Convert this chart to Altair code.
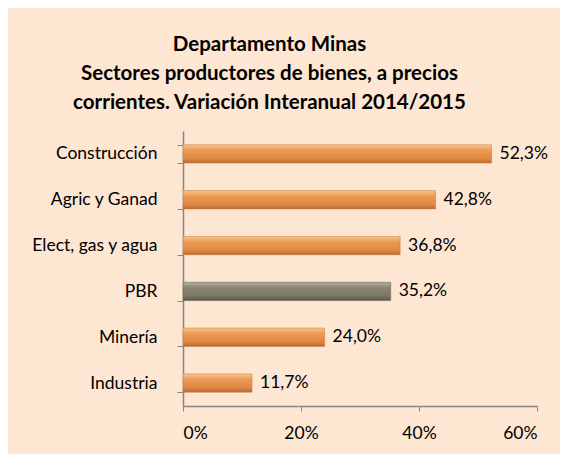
import altair as alt
import pandas as pd

categories = ["Construcción", "Agric y Ganad", "Elect, gas y agua", "PBR", "Minería", "Industria"]
values = [52.3, 42.8, 36.8, 35.2, 24.0, 11.7]
x_ticks = [0, 20, 40, 60]

df = pd.DataFrame({"cat": categories, "v": values})

FONT = "Lato"
LFS = 17.5
orange = alt.Gradient(
    gradient="linear", x1=0, y1=0, x2=0, y2=1,
    stops=[
        alt.GradientStop(offset=0, color="#FAC58E"),
        alt.GradientStop(offset=0.3, color="#EC9A55"),
        alt.GradientStop(offset=0.75, color="#E08744"),
        alt.GradientStop(offset=1, color="#B86A33"),
    ],
)
gray = alt.Gradient(
    gradient="linear", x1=0, y1=0, x2=0, y2=1,
    stops=[
        alt.GradientStop(offset=0, color="#B3B09E"),
        alt.GradientStop(offset=0.3, color="#8A8672"),
        alt.GradientStop(offset=0.75, color="#7B7764"),
        alt.GradientStop(offset=1, color="#59564A"),
    ],
)

y_enc = alt.Y(
    "cat:N", sort=categories, title=None,
    scale=alt.Scale(paddingInner=0.6, paddingOuter=0.3),
    axis=alt.Axis(
        tickBand="extent", domainColor="#868686", tickColor="#868686",
        tickSize=6, labelPadding=20, labelFontSize=LFS, labelFont=FONT,
        labelColor="#000000", domainWidth=1.5,
    ),
)
x_enc = alt.X(
    "v:Q", title=None,
    scale=alt.Scale(domain=[0, 60], nice=False),
    axis=alt.Axis(
        values=x_ticks, labelExpr="datum.value + '%'", grid=False,
        domainColor="#868686", tickColor="#868686", tickSize=5,
        labelPadding=13, labelFontSize=LFS, labelFont=FONT,
        labelColor="#000000", domainWidth=1.5,
    ),
)

base = alt.Chart(df).encode(y=y_enc, x=x_enc)

bars_orange = base.transform_filter("datum.cat != 'PBR'").mark_bar(
    color=orange, stroke="#C4783C", strokeWidth=0.5
)
bars_gray = base.transform_filter("datum.cat == 'PBR'").mark_bar(
    color=gray, stroke="#5E5B4C", strokeWidth=0.5
)
labels = base.transform_calculate(
    lab="replace(format(datum.v, '.1f'), '.', ',') + '%'"
).mark_text(
    align="left", baseline="middle", dx=8, fontSize=LFS, font=FONT, color="#000000"
).encode(text="lab:N")

chart = alt.layer(bars_orange, bars_gray, labels).properties(
    width=552,
    height=446,
    autosize=alt.AutoSizeParams(type="fit", contains="padding"),
    padding={"left": 22, "right": 22, "top": 26, "bottom": 12},
    background="#FDE6D2",
    title=alt.Title(
        ["Departamento Minas", "Sectores productores de bienes, a precios",
         "corrientes. Variación Interanual 2014/2015"],
        font=FONT, fontSize=20.5, fontWeight="bold", color="#000000",
        anchor="middle", frame="bounds", lineHeight=29, offset=9, dx=-20,
    ),
).configure_view(stroke=None)

chart.save("out.html", embed_options={"renderer": "svg", "actions": False})
